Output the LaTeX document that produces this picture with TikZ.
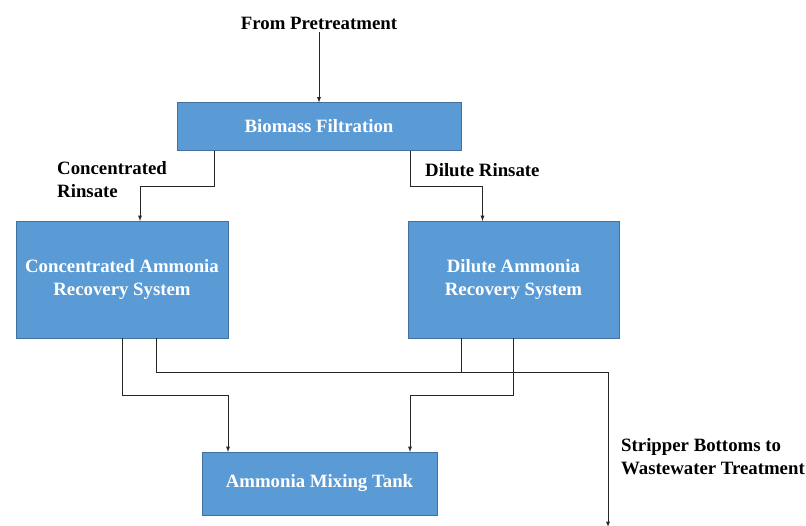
\documentclass[tikz,border=0pt]{standalone}
\usepackage{fontspec}
\setmainfont{Liberation Serif}
\definecolor{boxblue}{RGB}{91,155,213}
\definecolor{boxedge}{RGB}{65,113,156}

\begin{document}
\begin{tikzpicture}[x=1pt, y=-1pt,
		font=\fontsize{18.8}{23}\selectfont\bfseries,
		unit/.style={rectangle, draw=boxedge, fill=boxblue, text=white, align=center, inner sep=0pt, outer sep=0pt},
		flow/.style={line width=0.9pt, draw=black!85},
		label/.style={align=left, inner sep=0pt}]
		\useasboundingbox (0,0) rectangle (806,525);

		\node[unit, minimum width=284pt, minimum height=48pt] (bf) at (319,126.5) {Biomass Filtration};
		\node[unit, minimum width=212pt, minimum height=117pt] (conc) at (122,279.5) {Concentrated Ammonia\\Recovery System};
		\node[unit, minimum width=211pt, minimum height=117pt] (dil) at (513.5,279.5) {Dilute Ammonia\\Recovery System};
		\node[unit, minimum width=235pt, minimum height=63pt] (mix) at (319.5,483.5) {Ammonia Mixing Tank};

		\node[inner sep=0pt] (pre) at (319,23) {From Pretreatment};
		\node[label, anchor=west] (crins) at (57,180) {Concentrated\\Rinsate};
		\node[label, anchor=west] (drins) at (425,170.5) {Dilute Rinsate};
		\node[label, anchor=west] (strip) at (621,457) {Stripper Bottoms to\\Wastewater Treatment};

		\coordinate (bend) at (608,372);
		\coordinate (out) at (608,527);

		\draw[flow, -latex] ([yshift=-3pt]pre.south) -- (bf);
		\draw[flow, -latex] ([xshift=-105pt]bf.south) -- ++(0,36) -| ([xshift=18pt]conc.north);
		\draw[flow, -latex] ([xshift=91pt]bf.south) -- ++(0,36) -| ([xshift=-31pt]dil.north);

		\draw[flow, -latex] (conc.south) -- ++(0,57) -| ([xshift=-91.5pt]mix.north);
		\draw[flow, -latex] (dil.south) -- ++(0,57) -| ([xshift=90.5pt]mix.north);

		\draw[flow, -latex] ([xshift=34pt]conc.south) |- (bend) -- (out);
		\draw[flow] ([xshift=-52.5pt]dil.south) -- ([xshift=-52.5pt]dil.south |- bend);
	\end{tikzpicture}
\end{document}
